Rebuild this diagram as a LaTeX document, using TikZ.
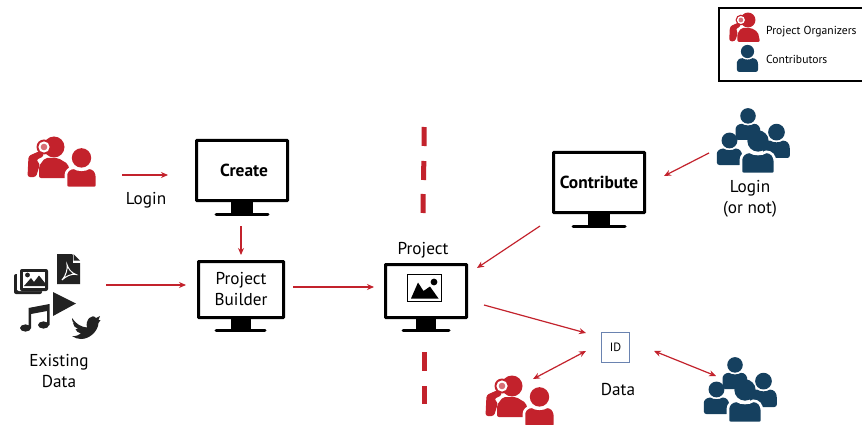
\documentclass[tikz,border=0pt]{standalone}
\usepackage{fontspec}
\setmainfont{PT Sans}
\usetikzlibrary{arrows.meta}
\definecolor{redc}{HTML}{C3222C}
\definecolor{navyc}{HTML}{15405F}
\definecolor{darkc}{HTML}{222222}
\definecolor{idblue}{HTML}{6A83B0}
\tikzset{
  conn/.style={draw=redc,line width=1.2pt,-{Stealth[length=7pt,width=6pt]}},
  connb/.style={draw=redc,line width=1.2pt,{Stealth[length=7pt,width=6pt]}-{Stealth[length=7pt,width=6pt]}},
  screen/.style={draw=black,line width=3pt,rounded corners=0.5pt,inner sep=0pt,align=center,fill=white},
  lab/.style={font=\fontsize{17.2}{20.5}\selectfont,align=center,inner sep=0pt},
  mon/.style={font=\fontsize{17.2}{21}\selectfont,align=center},
  monb/.style={font=\fontsize{17.4}{21}\selectfont\bfseries,align=center},
  small/.style={font=\fontsize{11.6}{13}\selectfont,inner sep=0pt,anchor=west},
  cut/.style={draw=redc,line width=5pt}
}
\newcommand{\bodypath}{(-11.5,0) -- (-11.5,-8) [sharp corners] .. controls (-11.5,-12.5) and (-9,-15) .. (-5.5,-15) .. controls (-3,-13) and (3,-13) .. (5.5,-15) .. controls (9,-15) and (11.5,-12.5) .. (11.5,-8) [rounded corners=2.5pt] -- (11.5,0) -- cycle}
% person: bottom centre (#1,#2), scale #3, colour #4
\newcommand{\person}[4]{%
  \begin{scope}[shift={(#1,#2)},scale=#3]
    \fill[#4] (0,-22.3) circle (7.2);
    \path[fill=#4,rounded corners=2.5pt] \bodypath;
  \end{scope}}
% person with a white edge on its body
\newcommand{\edgedperson}[4]{%
  \begin{scope}[shift={(#1,#2)},scale=#3]
    \path[draw=white,line width=2.6pt,fill=#4,rounded corners=2.5pt] \bodypath;
    \fill[#4] (0,-22.3) circle (7.2);
  \end{scope}}
\newcommand{\crowd}[2]{%
  \begin{scope}[shift={(#1,#2)}]
    \person{-10}{-34}{1.08}{navyc}
    \person{-28.5}{-9}{1.1}{navyc}
    \person{18.5}{-16}{1.16}{navyc}
    \edgedperson{0}{0}{1.48}{navyc}
  \end{scope}}
% big figure with magnifier: origin = below its head on the base line
\newcommand{\seeker}[3]{%
  \begin{scope}[shift={(#1,#2)},scale=#3]
    \fill[redc] (0,-31) circle (10.5);
    \path[fill=redc,rounded corners=2pt] (-15,0) -- (-15,-12) -- (-9,-20) -- (4,-20) -- (14,-14) -- (17,0) -- cycle;
    \path[fill=redc,rounded corners=2.5pt] (-26.5,-1) -- (-25.5,-22) -- (-12,-28) -- (-10,-22) -- (-18,-18) -- (-14,-14) -- (-18,-1) -- cycle;
    \fill[redc] (-10,-31) circle (7.5);
    \fill[white] (-10,-31) circle (5.6);
    \fill[redc!65!white] (-10,-31) circle (3.3);
  \end{scope}}
\newcommand{\organizers}[2]{%
  \begin{scope}[shift={(#1,#2)}]
    \seeker{-27.5}{-10}{1}{redc}
    \edgedperson{0}{0}{1.35}{redc}
  \end{scope}}
\newcommand{\stand}[6]{%
  \fill[black] (#1,#3) rectangle (#2,#6);
  \draw[black,line width=3pt,line cap=round] (#4,#6+1.5) -- (#5,#6+1.5);}
\begin{document}
\begin{tikzpicture}[x=1pt,y=-1pt]
\useasboundingbox (0,0) rectangle (862,425);
\fill[white] (0,0) rectangle (862,425);
% divider
\draw[cut] (424.2,127) -- (424,146);
\draw[cut] (423.8,161) -- (423.6,180);
\draw[cut] (423.2,194) -- (423,213);
\draw[cut] (424.3,352) -- (424.3,371);
\draw[cut] (424.3,386) -- (424.3,404);
% monitors
\stand{231}{253}{200}{216}{268}{213}
\node[screen,monb,minimum width=91pt,minimum height=60pt] (create) at (242,170.5) {\hspace*{4pt}Create};
\stand{231}{251}{318}{216}{265}{329}
\node[screen,mon,minimum width=85pt,minimum height=56pt] (builder) at (241,289.5) {Project\\Builder};
\stand{416}{436}{318}{403}{449}{329}
\node[screen,minimum width=81pt,minimum height=53pt] (project) at (426,291) {};
\stand{588}{610}{212}{573}{625}{225}
\node[screen,monb,minimum width=91pt,minimum height=60pt] (contribute) at (599,182.5) {Contribute};
% picture icon in project
\node[draw=black,line width=1.3pt,minimum width=34pt,minimum height=27pt,inner sep=0pt] (picon) at (424.5,288) {};
\fill[black] (411,298.5) -- (418,282.5) -- (423.5,291) -- (430,286.5) -- (438.5,298.5) -- cycle;
\fill[black] (434,282) circle (3.4);
% labels
\node[lab] (login1) at (146,200) {Login};
\node[lab] (exist) at (59,371) {Existing\\Data};
\node[lab] (projl) at (423,250) {Project};
\node[lab] (login2) at (750,199) {Login\\(or not)};
\node[lab] (datal) at (618,390) {Data};
% ID box
\node[draw=idblue,line width=0.9pt,minimum width=28pt,minimum height=30pt,inner sep=0pt,font=\fontsize{12}{14}\selectfont] (id) at (615.5,347.5) {ID};
% legend
\draw[black,line width=1.6pt] (863,8) -- (719,8) -- (719,81) -- (863,81);
\seeker{748}{42}{0.71}{redc}
\person{747.5}{72}{0.92}{navyc}
\node[small] (l1) at (766,32) {Project Organizers};
\node[small] (l2) at (766,59.5) {Contributors};
% people
\organizers{81.5}{188}
\organizers{539.5}{427}
\crowd{758}{174}
\crowd{745}{423}
% existing data icons
\begin{scope}
  \fill[darkc,rounded corners=2pt] (14,274) rectangle (42,294);
  \fill[white,rounded corners=2pt] (17,271) rectangle (50,291);
  \fill[white] (17,271) rectangle (19,290);
  \fill[darkc,rounded corners=2pt] (20,269) rectangle (48,291);
  \fill[white] (23,272) rectangle (45,288);
  \fill[darkc] (24,286) -- (31,278) -- (34,282) -- (39,275.5) -- (45,283) -- (45,286) -- cycle;
  \fill[darkc] (27.5,275) circle (2.4);
  \fill[darkc] (57,254) -- (72,254) -- (80,262) -- (80,284) -- (57,284) -- cycle;
  \fill[white] (72.5,254) -- (72.5,262.5) -- (80.5,262.5) -- (80.5,254) -- cycle;
  \fill[darkc] (73.5,254) -- (80,260.5) -- (73.5,260.5) -- cycle;
  \draw[white,line width=1pt] (62,280) .. controls (66,276) and (68,268) .. (67,264.5) .. controls (68,268) and (71,273) .. (76,274.5) .. controls (72,273.5) and (66,276) .. (62,280);
  \fill[darkc] (53,292) -- (76,303.5) -- (53,316) -- cycle;
  \fill[darkc] (28.5,308) -- (49.5,304) -- (49.5,325) -- (47,325) -- (47,311) -- (31,314) -- (31,328) -- (28.5,328) -- cycle;
  \fill[darkc] (25.5,328) ellipse (5.5 and 3.6);
  \fill[darkc] (43.5,325) ellipse (5.5 and 3.6);
  \fill[darkc] (72,318) .. controls (76,324) and (81,327) .. (87,327.5) .. controls (85,320) and (92,313) .. (96,318) -- (100,316) -- (98.5,320) -- (100.5,320) -- (98.5,323) .. controls (98,331) and (90,339) .. (81,339) .. controls (78,339) and (75,338) .. (72,336) .. controls (76,336.5) and (79,335) .. (81,333.5) .. controls (78,333) and (76,331) .. (75.5,329) -- (78,329) .. controls (75,328) and (73,325) .. (73,323) -- (75,324) .. controls (72,322) and (72,320) .. (72,318) -- cycle;
\end{scope}
% connector ends
\coordinate (o1) at (122,175);
\coordinate (o1e) at (168,175);
\coordinate (dat) at (106,285);
\coordinate (datE) at (186,285);
\coordinate (cs) at (241,226);
\coordinate (bn) at (241,255);
\coordinate (bo) at (293,287);
\coordinate (pi) at (374,287);
\coordinate (cso) at (540,226);
\coordinate (pne) at (477,268);
\coordinate (gw) at (709,153);
\coordinate (ce) at (664,176);
\coordinate (pse) at (484,305);
\coordinate (idw) at (586,333);
\coordinate (idsw) at (586,351);
\coordinate (ors) at (533,379);
\coordinate (ide) at (654,351);
\coordinate (grn) at (716,376);
\draw[conn] (o1) -- (o1e);
\draw[conn] (dat) -- (datE);
\draw[conn] (cs) -- (bn);
\draw[conn] (bo) -- (pi);
\draw[conn] (cso) -- (pne);
\draw[conn] (gw) -- (ce);
\draw[conn] (pse) -- (idw);
\draw[connb] (idsw) -- (ors);
\draw[connb] (ide) -- (grn);
\end{tikzpicture}
\end{document}
